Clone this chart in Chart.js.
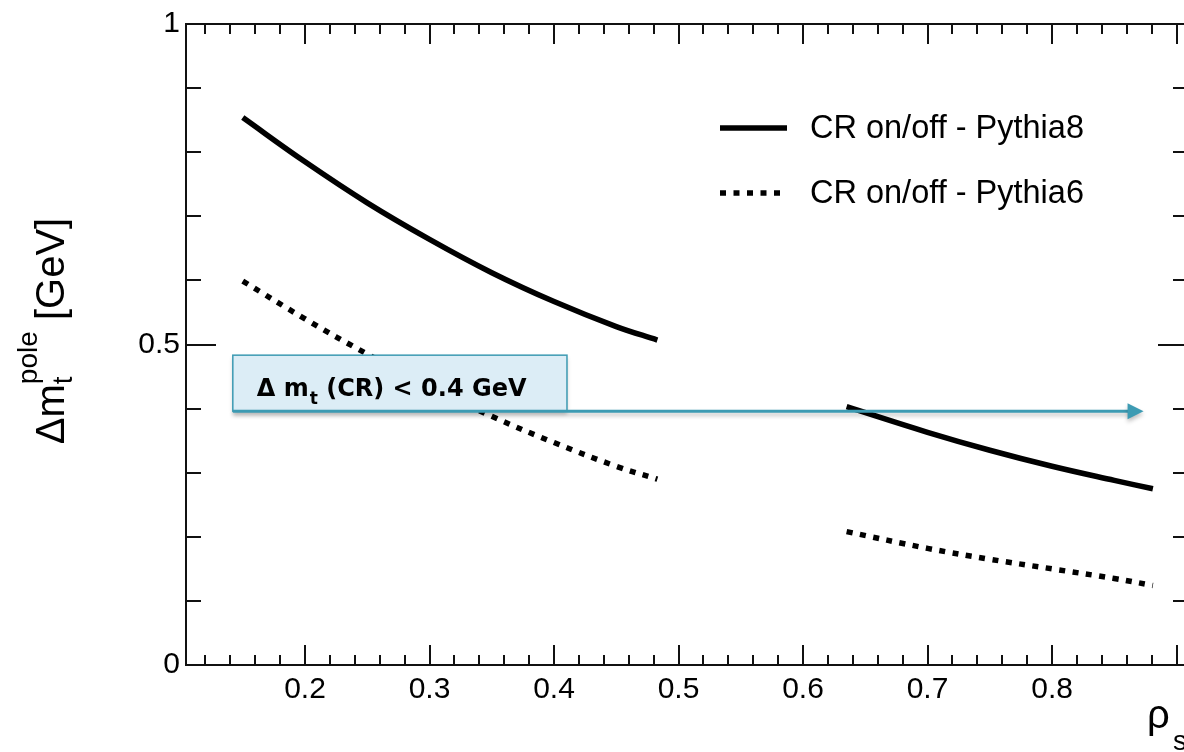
<!DOCTYPE html>
<html>
<head>
<meta charset="utf-8">
<script src="https://cdn.jsdelivr.net/npm/chart.js@4.4.1/dist/chart.umd.min.js"></script>
<style>
  html, body { margin: 0; padding: 0; background: #fff; overflow: hidden; }
  canvas { display: block; }
</style>
</head>
<body>
<canvas id="chart" width="1200" height="752"></canvas>
<script>
// --- data ---
const rhoLow = [0.15, 0.2, 0.25, 0.3, 0.35, 0.4, 0.45, 0.483];
const pythia8Low = [0.854, 0.785, 0.721, 0.664, 0.612, 0.567, 0.528, 0.507];
const pythia6Low = [0.599, 0.540, 0.485, 0.434, 0.388, 0.347, 0.310, 0.290];

const rhoHigh = [0.635, 0.7, 0.75, 0.8, 0.85, 0.881];
const pythia8High = [0.403, 0.363, 0.335, 0.310, 0.288, 0.275];
const pythia6High = [0.208, 0.182, 0.165, 0.150, 0.135, 0.124];

const seriesNames = ['CR on/off - Pythia8', 'CR on/off - Pythia6'];
const xLabelValues = [0.2, 0.3, 0.4, 0.5, 0.6, 0.7, 0.8];
const yLabelValues = [0, 0.5, 1];
const crLimit = 0.396;
const limitText = ['\u0394 m', 't', ' (CR) < 0.4 GeV'];

const TXT = "'Liberation Sans', Arial, Helvetica, sans-serif";

function pts(xs, ys) {
  return xs.map((x, i) => ({ x: x, y: ys[i] }));
}

const solid = { borderColor: '#000', borderWidth: 5.5, pointRadius: 0, fill: false,
  tension: 0.4, borderCapStyle: 'butt' };
const dotted = Object.assign({}, solid, { borderDash: [6, 7.5] });

// frame with inward ticks on all four sides
const framePlugin = {
  id: 'frame',
  afterDatasetsDraw(chart) {
    const { ctx, chartArea: a, scales: { x, y } } = chart;
    ctx.save();
    ctx.strokeStyle = '#111';
    ctx.lineWidth = 2;
    ctx.strokeRect(a.left, a.top, a.right - a.left, a.bottom - a.top);
    ctx.beginPath();
    for (let i = Math.ceil(x.min / 0.02 - 1e-9); i * 0.02 <= x.max + 1e-9; i++) {
      const px = Math.round(x.getPixelForValue(i * 0.02));
      const len = i % 5 === 0 ? 20 : 10;
      ctx.moveTo(px, a.bottom); ctx.lineTo(px, a.bottom - len);
      ctx.moveTo(px, a.top); ctx.lineTo(px, a.top + len);
    }
    for (let i = 0; i <= 10; i++) {
      const py = Math.round(y.getPixelForValue(i / 10));
      const len = i % 5 === 0 ? 30 : 15;
      ctx.moveTo(a.left, py); ctx.lineTo(a.left + len, py);
      ctx.moveTo(a.right, py); ctx.lineTo(a.right - len, py);
    }
    ctx.stroke();
    ctx.restore();
  }
};

// legend, axis titles and the CR annotation
const decorPlugin = {
  id: 'decor',
  afterDraw(chart) {
    const { ctx, scales: { x, y } } = chart;
    ctx.save();

    // legend
    ctx.strokeStyle = '#000';
    ctx.lineWidth = 5.5;
    ctx.beginPath(); ctx.moveTo(720, 128); ctx.lineTo(787, 128); ctx.stroke();
    ctx.setLineDash([6, 7.5]);
    ctx.beginPath(); ctx.moveTo(720, 193); ctx.lineTo(784, 193); ctx.stroke();
    ctx.setLineDash([]);
    ctx.fillStyle = '#000';
    ctx.font = '32.5px ' + TXT;
    ctx.textBaseline = 'middle';
    ctx.fillText(seriesNames[0], 810, 129);
    ctx.fillText(seriesNames[1], 810, 194);

    // y title: Δm_t^pole [GeV]
    ctx.textBaseline = 'alphabetic';
    ctx.save();
    ctx.translate(64, 331);
    ctx.rotate(-Math.PI / 2);
    const big = '40px ' + TXT, small = '28px ' + TXT;
    ctx.font = big; const w1 = ctx.measureText('\u0394m').width;
    const w3 = ctx.measureText(' [GeV]').width;
    ctx.font = small; const w2 = Math.max(ctx.measureText('pole').width, ctx.measureText('t').width);
    let cx = -(w1 + w2 + w3) / 2;
    ctx.font = big; ctx.fillText('\u0394m', cx, 0); cx += w1;
    ctx.font = small; ctx.fillText('t', cx, 8); ctx.fillText('pole', cx, -27); cx += w2;
    ctx.font = big; ctx.fillText(' [GeV]', cx, 0);
    ctx.restore();

    // x title: ρ_s
    ctx.font = big; ctx.fillText('\u03c1', 1147, 728);
    ctx.font = small; ctx.fillText('s', 1173, 750);

    // annotation box + arrow at the CR limit
    const yl = y.getPixelForValue(crLimit);
    const bx0 = x.getPixelForValue(0.142), bx1 = x.getPixelForValue(0.4104);
    const tip = x.getPixelForValue(0.8735);
    const top = yl - 56;
    ctx.shadowColor = 'rgba(0,0,0,0.25)';
    ctx.shadowBlur = 4;
    ctx.shadowOffsetY = 3;
    ctx.fillStyle = '#dcedf6';
    ctx.fillRect(bx0, top, bx1 - bx0, yl - top);
    ctx.strokeStyle = '#3d9bb3';
    ctx.lineWidth = 3;
    ctx.beginPath(); ctx.moveTo(bx0, yl); ctx.lineTo(tip - 12, yl); ctx.stroke();
    ctx.fillStyle = '#3d9bb3';
    ctx.beginPath(); ctx.moveTo(tip, yl); ctx.lineTo(tip - 16, yl - 8); ctx.lineTo(tip - 16, yl + 8); ctx.closePath(); ctx.fill();
    ctx.shadowColor = 'transparent';
    ctx.lineWidth = 1.5;
    ctx.strokeRect(bx0, top, bx1 - bx0, yl - top);

    ctx.fillStyle = '#000';
    const bold = "bold 24px 'DejaVu Sans', Verdana, sans-serif";
    const boldSmall = "bold 17px 'DejaVu Sans', Verdana, sans-serif";
    let tx = bx0 + 24;
    ctx.font = bold; ctx.fillText(limitText[0], tx, yl - 15); tx += ctx.measureText(limitText[0]).width;
    ctx.font = boldSmall; ctx.fillText(limitText[1], tx + 1, yl - 7); tx += ctx.measureText(limitText[1]).width + 1;
    ctx.font = bold; ctx.fillText(limitText[2], tx, yl - 15);

    ctx.restore();
  }
};

new Chart(document.getElementById('chart'), {
  type: 'line',
  data: {
    datasets: [
      Object.assign({ label: seriesNames[0], data: pts(rhoLow, pythia8Low) }, solid),
      Object.assign({ label: seriesNames[0], data: pts(rhoHigh, pythia8High) }, solid),
      Object.assign({ label: seriesNames[1], data: pts(rhoLow, pythia6Low) }, dotted),
      Object.assign({ label: seriesNames[1], data: pts(rhoHigh, pythia6High) }, dotted),
    ],
  },
  options: {
    responsive: false,
    animation: false,
    layout: { padding: { top: 17, right: 12, left: 0, bottom: 0 } },
    plugins: { legend: { display: false }, tooltip: { enabled: false } },
    scales: {
      x: {
        type: 'linear',
        min: 0.1044,
        max: 0.9092,
        grid: { display: false, drawTicks: false },
        border: { display: false },
        afterFit(s) { s.height = 87; },
        afterBuildTicks(s) { s.ticks = xLabelValues.map(v => ({ value: v })); },
        ticks: {
          color: '#000',
          font: { family: TXT, size: 30 },
          padding: 7,
          maxRotation: 0,
          autoSkip: false,
          callback: v => v.toFixed(1),
        },
      },
      y: {
        min: 0,
        max: 1,
        grid: { display: false, drawTicks: false },
        border: { display: false },
        afterFit(s) { s.width = 186; },
        afterBuildTicks(s) { s.ticks = yLabelValues.map(v => ({ value: v })); },
        ticks: {
          color: '#000',
          font: { family: TXT, size: 30 },
          padding: 6,
          autoSkip: false,
          callback: v => String(v),
        },
      },
    },
  },
  plugins: [framePlugin, decorPlugin],
});
</script>
</body>
</html>
